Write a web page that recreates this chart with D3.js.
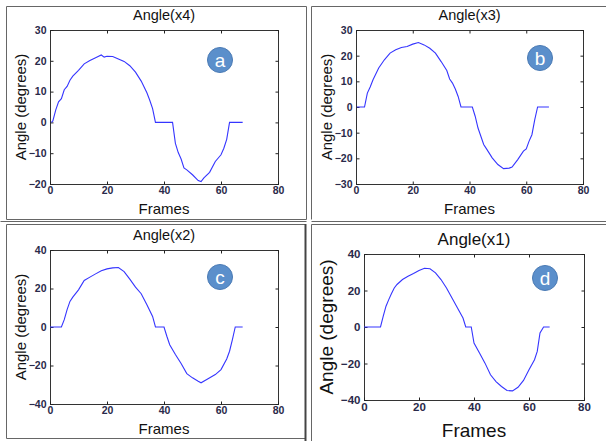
<!DOCTYPE html>
<html>
<head>
<meta charset="utf-8">
<script src="https://cdnjs.cloudflare.com/ajax/libs/d3/7.8.5/d3.min.js"></script>
<style>
  body { margin: 0; background: #fff; }
  svg { display: block; font-family: Arial, "Liberation Sans", sans-serif; }
</style>
</head>
<body>
<div id="chart"></div>
<script>
// values, frame -> angle in degrees
const xTicks = [0, 20, 40, 60, 80];

const framesX4 = [0.5, 1, 2, 3, 4, 5, 6, 7, 8, 10, 12, 14, 16, 18, 19, 20, 22, 24, 26, 28, 30, 32, 34, 35, 36, 37, 43, 44, 45, 46, 47, 48, 50, 52, 53, 54, 56, 58, 60, 61, 62, 63, 67.6];
const angleX4 = [0, 0.5, 4, 6.7, 7.7, 10.6, 11.7, 13.7, 15, 16.9, 19, 20.1, 21, 21.9, 21.2, 21.5, 21.4, 20.6, 19.8, 18.4, 16.3, 13.4, 9.6, 7.2, 4.5, 0, 0, -6.8, -9.8, -11.9, -14.8, -15.4, -17, -18.9, -19.2, -18, -16.2, -12.7, -10.5, -8.4, -5.5, 0, 0];
const yTicksX4 = [-20, -10, 0, 10, 20, 30];

const framesX3 = [0.3, 3, 4, 5, 6, 8, 10, 12, 14, 16, 18, 20, 22, 24, 26, 28, 30, 32, 33, 34, 35, 36, 37, 41, 42, 43, 44, 45, 46, 48, 50, 52, 54, 55, 57, 59, 60, 61, 62, 63, 64, 68];
const angleX3 = [0, 0, 5.4, 7.8, 10.6, 15.2, 18.4, 21, 22.3, 23.2, 23.6, 24.5, 25.1, 24.2, 22.9, 21, 17.7, 14.2, 10.9, 9.3, 7, 4.1, 0, 0, -3.6, -8.2, -11.4, -14.6, -16.3, -19.8, -22.4, -24, -23.8, -23.4, -20.5, -17.2, -16.3, -13.3, -10.8, -4.9, 0, 0];
const yTicksX3 = [-30, -20, -10, 0, 10, 20, 30];

const framesX2 = [0, 4, 5, 6, 7, 8, 10, 12, 14, 16, 18, 20, 22, 24, 26, 28, 30, 32, 34, 36, 37, 40, 41, 42, 44, 46, 48, 50, 52, 53, 55, 58, 60, 62, 63, 64, 65, 67.6];
const angleX2 = [0, 0, 3.8, 9, 13.3, 15.5, 19.3, 24.2, 25.9, 27.6, 29.2, 30.2, 30.7, 30.9, 28.8, 24.9, 20.7, 17.3, 11.6, 5.5, 0, 0, -4.8, -9.2, -14.3, -19, -24.2, -26.4, -28.2, -29, -27.3, -24.7, -22.1, -16.6, -12.6, -6.6, 0, 0];
const yTicksX2 = [-40, -20, 0, 20, 40];

const framesX1 = [0, 6, 7, 8, 9, 10, 11, 12, 14, 16, 18, 20, 22, 24, 26, 28, 30, 32, 34, 36, 37, 39, 40, 42, 44, 46, 48, 50, 52, 54, 56, 58, 60, 62, 63, 64, 65.3, 67.5];
const angleX1 = [0, 0, 5.9, 11.4, 15, 18.3, 21.4, 23.3, 26, 27.8, 29.3, 31, 32.2, 31.9, 29.7, 26, 21.4, 15.9, 10.4, 4.9, 0, 0, -8.8, -14.3, -19.8, -26.2, -29.9, -32.6, -34.8, -35, -33, -29.3, -23.4, -17.9, -13.4, -3.3, 0, 0];
const yTicksX1 = [-40, -20, 0, 20, 40];

const panels = [
    { title: "Angle(x4)", letter: "a", frames: framesX4, angle: angleX4, yTicks: yTicksX4,
      box: { left: 50, right: 278, top: 30, bottom: 184 }, badge: [220, 60], big: false },
    { title: "Angle(x3)", letter: "b", frames: framesX3, angle: angleX3, yTicks: yTicksX3,
      box: { left: 356, right: 583, top: 30, bottom: 184 }, badge: [540, 58], big: false },
    { title: "Angle(x2)", letter: "c", frames: framesX2, angle: angleX2, yTicks: yTicksX2,
      box: { left: 50, right: 278, top: 250, bottom: 404 }, badge: [220, 277], big: false },
    { title: "Angle(x1)", letter: "d", frames: framesX1, angle: angleX1, yTicks: yTicksX1,
      box: { left: 364, right: 584, top: 254, bottom: 400 }, badge: [545, 278], big: true },
];

const svg = d3.select("#chart")
    .append("svg")
    .attr("width", 606)
    .attr("height", 441);

// panel frames
const frameLines = [
    [6, 6, 306, 6], [6, 6, 6, 219], [306, 6, 306, 219], [6, 219, 306, 219],
    [311, 6, 606, 6], [311, 6, 311, 219], [311, 221, 606, 221], [0, 221, 306, 221],
    [6, 224, 305, 224], [6, 224, 6, 438], [6, 438, 305, 438],
    [311, 224, 606, 224], [311, 224, 311, 441],
];
svg.selectAll("line.frame")
    .data(frameLines)
    .enter()
    .append("line")
    .attr("class", "frame")
    .attr("x1", (d) => d[0] + 0.5)
    .attr("y1", (d) => d[1] + 0.5)
    .attr("x2", (d) => d[2] + 0.5)
    .attr("y2", (d) => d[3] + 0.5)
    .attr("stroke", "#666")
    .attr("stroke-width", 1);
svg.append("line")
    .attr("x1", 305.5).attr("y1", 224).attr("x2", 305.5).attr("y2", 441)
    .attr("stroke", "#444").attr("stroke-width", 2);

panels.forEach(drawPanel);

function styleAxis(g, size) {
    g.select(".domain").remove();
    g.selectAll(".tick line").attr("stroke", "#222");
    g.selectAll("text")
        .attr("fill", "#2a2a4a")
        .attr("font-size", size)
        .attr("font-weight", "bold")
        .attr("font-family", "Arial, 'Liberation Sans', sans-serif");
}

function drawPanel(p) {
    const { left, right, top, bottom } = p.box;
    const tickFont = p.big ? 11.5 : 10.5;
    const labelFont = p.big ? 19 : 15;
    const titleFont = p.big ? 17 : 14.5;

    const xScale = d3.scaleLinear().domain([0, 80]).range([left, right]);
    const yScale = d3.scaleLinear()
        .domain(d3.extent(p.yTicks))
        .range([bottom, top]);

    const g = svg.append("g");

    g.append("rect")
        .attr("x", left + 0.5)
        .attr("y", top + 0.5)
        .attr("width", right - left)
        .attr("height", bottom - top)
        .attr("fill", "#fff")
        .attr("stroke", "#333");

    g.append("g")
        .attr("transform", `translate(0,${bottom + 0.5})`)
        .call(d3.axisBottom(xScale).tickValues(xTicks).tickSize(-3).tickPadding(2))
        .call((a) => styleAxis(a, tickFont));
    g.append("g")
        .attr("transform", `translate(0,${top + 0.5})`)
        .call(d3.axisTop(xScale).tickValues(xTicks).tickSize(-3).tickFormat(""))
        .call((a) => styleAxis(a, tickFont));
    g.append("g")
        .attr("transform", `translate(${left + 0.5},0)`)
        .call(d3.axisLeft(yScale).tickValues(p.yTicks).tickSize(-3).tickPadding(4))
        .call((a) => styleAxis(a, tickFont));
    g.append("g")
        .attr("transform", `translate(${right + 0.5},0)`)
        .call(d3.axisRight(yScale).tickValues(p.yTicks).tickSize(-3).tickFormat(""))
        .call((a) => styleAxis(a, tickFont));

    const pts = p.frames.map((f, i) => ({ x: f, y: p.angle[i] }));
    const line = d3.line().x((d) => xScale(d.x)).y((d) => yScale(d.y));
    g.append("path")
        .attr("d", line(pts))
        .attr("fill", "none")
        .attr("stroke", "#3535ff")
        .attr("stroke-width", 1.1);

    const cx = (left + right) / 2;
    g.append("text")
        .text(p.title)
        .attr("x", cx)
        .attr("y", top - (p.big ? 9 : 10))
        .attr("text-anchor", "middle")
        .attr("font-size", titleFont)
        .attr("fill", "#111");

    g.append("text")
        .text("Frames")
        .attr("x", cx)
        .attr("y", bottom + (p.big ? 37 : 30))
        .attr("text-anchor", "middle")
        .attr("font-size", labelFont)
        .attr("fill", "#111");

    g.append("text")
        .text("Angle (degrees)")
        .attr("transform", `translate(${left - (p.big ? 31 : 24)},${(top + bottom) / 2}) rotate(-90)`)
        .attr("text-anchor", "middle")
        .attr("font-size", labelFont)
        .attr("fill", "#111");

    // letter badge
    g.append("circle")
        .attr("cx", p.badge[0])
        .attr("cy", p.badge[1])
        .attr("r", 12.5)
        .attr("fill", "#5b8fcb")
        .attr("stroke", "#4a7ab4")
        .attr("stroke-width", 1);
    g.append("text")
        .text(p.letter)
        .attr("x", p.badge[0])
        .attr("y", p.badge[1] + 6.5)
        .attr("text-anchor", "middle")
        .attr("font-size", 19)
        .attr("fill", "#fff");
}
</script>
</body>
</html>
